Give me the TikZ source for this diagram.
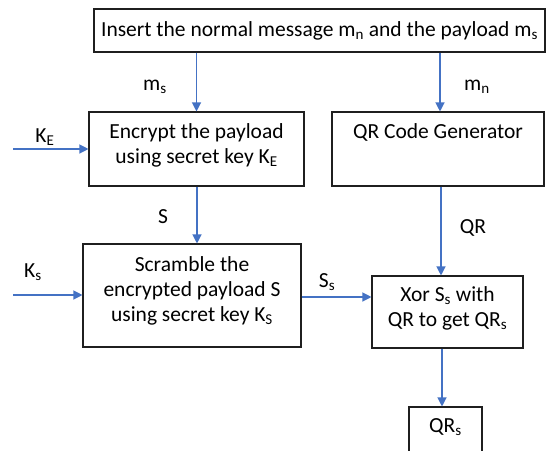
\documentclass[tikz,border=0pt]{standalone}
\usepackage{fontspec}
\setmainfont{Carlito}
\usetikzlibrary{arrows.meta}
\definecolor{flowblue}{HTML}{4472C4}
\definecolor{boxline}{HTML}{1F1F1F}
\tikzset{
  box/.style={draw=boxline, line width=1.1pt, fill=white, inner sep=0pt},
  txt/.style={font=\fontsize{21.5}{25}\selectfont, align=center, inner sep=0pt},
  lbl/.style={font=\fontsize{21.5}{25}\selectfont, inner sep=0pt},
  flow/.style={draw=flowblue, line width=1.2pt, -{Triangle[width=9pt,length=9pt]}}
}
\begin{document}
\begin{tikzpicture}[x=1pt,y=-1pt]
\useasboundingbox (0,0) rectangle (546,450);
\fill[white] (0,0) rectangle (546,450);

% process boxes
\node[box, minimum width=451pt, minimum height=43pt] (top) at (319.5,30.5) {};
\node[txt] (toptext) at (319.5,31) {Insert the normal message m\textsubscript{n} and the payload m\textsubscript{s}};

\node[box, minimum width=215pt, minimum height=74pt] (enc) at (196.5,149) {};
\node[txt] (enctext) at (196.5,145) {Encrypt the payload\\using secret key K\textsubscript{E}};

\node[box, minimum width=212pt, minimum height=74pt] (qrg) at (438,149) {};
\node[txt] (qrgtext) at (438,132) {QR Code Generator};

\node[box, minimum width=218pt, minimum height=103pt] (scr) at (192,295.5) {};
\node[txt] (scrtext) at (192,291) {Scramble the\\encrypted payload S\\using secret key K\textsubscript{S}};

\node[box, minimum width=151pt, minimum height=72pt] (xor) at (447.5,312) {};
\node[txt] (xortext) at (447.5,308.5) {Xor S\textsubscript{s} with\\QR to get QR\textsubscript{s}};

\node[box, minimum width=73pt, minimum height=60pt] (qrs) at (445.5,437) {};
\node[txt] (qrstext) at (445.5,427) {QR\textsubscript{s}};

% free ends of the key inputs
\coordinate (ke) at (13,149);
\coordinate (ks) at (13,295);

% connectors
\draw[flow] (top.south -| enc.north) -- (enc.north);
\draw[flow] (top.south -| 440,0) -- (qrg.north -| 440,0);
\draw[flow] (ke) -- (enc.west);
\draw[flow] (enc.south -| 197,0) -- (scr.north -| 197,0);
\draw[flow] (qrg.south -| 441,0) -- (xor.north -| 441,0);
\draw[flow] (ks) -- (scr.west |- ks);
\draw[flow] (scr.east |- 0,297) -- (xor.west |- 0,297);
\draw[flow] (xor.south -| 442,0) -- (qrs.north -| 442,0);

% connector labels
\node[lbl] (lms) at (155,87) {m\textsubscript{s}};
\node[lbl] (lmn) at (477,87) {m\textsubscript{n}};
\node[lbl] (lke) at (45,137) {K\textsubscript{E}};
\node[lbl] (ls) at (163,217) {S};
\node[lbl] (lks) at (33,272) {K\textsubscript{s}};
\node[lbl] (lss) at (327,282) {S\textsubscript{s}};
\node[lbl] (lqr) at (473,228) {QR};
\end{tikzpicture}
\end{document}
